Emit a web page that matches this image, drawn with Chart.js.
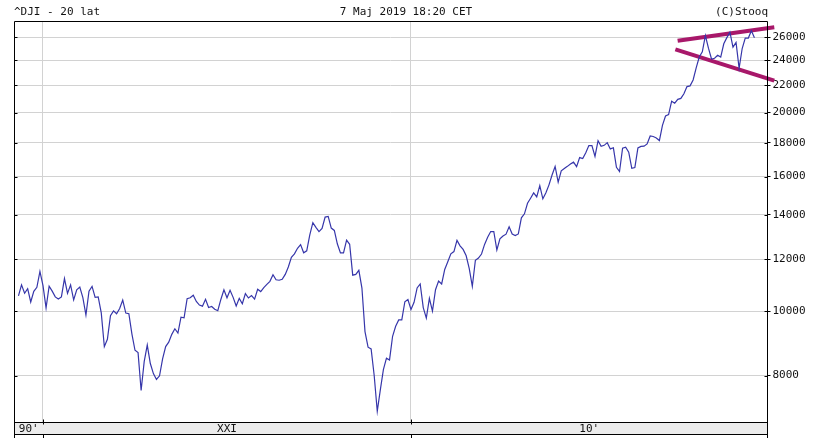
<!DOCTYPE html>
<html>
<head>
<meta charset="utf-8">
<title>^DJI - 20 lat</title>
<script src="https://cdn.jsdelivr.net/npm/chart.js@4.4.1/dist/chart.umd.min.js"></script>
<style>
    html, body { margin: 0; padding: 0; background: #fff; }
    canvas { display: block; }
</style>
</head>
<body>
<canvas id="djiChart" width="819" height="438"></canvas>
<script>
// Monthly closes of ^DJI, May 1999 .. May 2019 (one point per month)
const startYear = 1999;
const startMonth = 5;
const closes = [
    10560, 10971, 10655, 10829, 10337, 10730, 10878, 11497,
    10941, 10128, 10922, 10734, 10522, 10448, 10522, 11215, 10651, 10971, 10414, 10788,
    10887, 10495, 9879, 10735, 10912, 10502, 10523, 9950, 8848, 9075, 9852, 10022,
    9920, 10106, 10404, 9946, 9925, 9243, 8737, 8664, 7592, 8397, 8896, 8342,
    8054, 7891, 7992, 8480, 8850, 8985, 9234, 9416, 9275, 9801, 9782, 10454,
    10488, 10584, 10358, 10226, 10188, 10435, 10140, 10174, 10080, 10027, 10428, 10783,
    10490, 10766, 10504, 10193, 10467, 10275, 10641, 10482, 10569, 10440, 10806, 10718,
    10865, 10993, 11109, 11367, 11168, 11150, 11186, 11381, 11679, 12081, 12222, 12463,
    12622, 12269, 12354, 13063, 13628, 13409, 13212, 13358, 13896, 13930, 13372, 13265,
    12650, 12266, 12263, 12820, 12638, 11350, 11378, 11544, 10851, 9325, 8829, 8776,
    8001, 7063, 7609, 8168, 8500, 8447, 9172, 9496, 9712, 9713, 10345, 10428,
    10067, 10325, 10857, 11009, 10137, 9774, 10466, 10015, 10788, 11118, 11006, 11578,
    11892, 12226, 12320, 12811, 12570, 12414, 12143, 11614, 10913, 11955, 12046, 12218,
    12633, 12952, 13212, 13214, 12393, 12880, 13009, 13091, 13437, 13096, 13026, 13104,
    13861, 14054, 14579, 14840, 15116, 14910, 15500, 14810, 15130, 15546, 16086, 16577,
    15699, 16322, 16458, 16581, 16717, 16827, 16563, 17098, 17043, 17391, 17828, 17823,
    17165, 18133, 17776, 17841, 18011, 17620, 17690, 16528, 16285, 17664, 17720, 17425,
    16466, 16517, 17685, 17774, 17787, 17930, 18432, 18401, 18308, 18142, 19124, 19763,
    19864, 20812, 20663, 20941, 21009, 21350, 21891, 21948, 22405, 23377, 24272, 24719,
    26149, 25029, 24103, 24163, 24416, 24271, 25415, 25965, 26458, 25116, 25538, 23327,
    25000, 25916, 25929, 26593, 25965
];

// Axis setup
const yTicks = [8000, 10000, 12000, 14000, 16000, 18000, 20000, 22000, 24000, 26000];
const decadeLines = [2000, 2010];
const decadeLabels = ["90'", "XXI", "10'"];
const xMin = 1999.212;
const xMax = 2019.688;
const yMin = 6816;
const yMax = 27420;

// Hand-drawn trend lines (triangle)
const upperTrend = [{ x: 2017.246, y: 25691 }, { x: 2019.872, y: 26918 }];
const lowerTrend = [{ x: 2017.184, y: 24933 }, { x: 2019.872, y: 22349 }];

const titleLeft = '^DJI - 20 lat';
const titleCenter = '7 Maj 2019 18:20 CET';
const titleRight = '(C)Stooq';

const MONO = "'DejaVu Sans Mono', 'Liberation Mono', monospace";

// Build x/y points, one per month (plotted at month start)
const points = closes.map((v, i) => {
    const m = startMonth - 1 + i;
    return { x: startYear + m / 12, y: v };
});

// Frame, date band and header texts
const framePlugin = {
    id: 'stooqFrame',
    afterDraw(chart) {
        const ctx = chart.ctx;
        const a = chart.chartArea;
        const xs = chart.scales.x;
        const ys = chart.scales.y;
        const left = Math.round(a.left) + 0.5;
        const right = Math.round(a.right) - 0.5;
        const top = Math.round(a.top) - 0.5;
        const bottom = Math.round(a.bottom) + 0.5;
        const bandBottom = bottom + 12;

        ctx.save();

        // date band
        ctx.fillStyle = '#ececec';
        ctx.fillRect(left, bottom, right - left, bandBottom - bottom);

        ctx.strokeStyle = '#000';
        ctx.lineWidth = 1;
        ctx.beginPath();
        ctx.moveTo(left, top); ctx.lineTo(right, top);
        ctx.moveTo(left, top); ctx.lineTo(left, chart.height);
        ctx.moveTo(right, top); ctx.lineTo(right, chart.height);
        ctx.moveTo(left, bottom); ctx.lineTo(right, bottom);
        ctx.moveTo(left, bandBottom); ctx.lineTo(right, bandBottom);
        ctx.stroke();

        // decade separators below the band and small ticks
        ctx.beginPath();
        decadeLines.forEach(d => {
            const px = Math.round(xs.getPixelForValue(d)) + 0.5;
            ctx.moveTo(px, bottom - 3); ctx.lineTo(px, bottom + 2);
            ctx.moveTo(px, bandBottom); ctx.lineTo(px, chart.height);
        });
        // y ticks on both frame sides
        yTicks.forEach(v => {
            const py = Math.round(ys.getPixelForValue(v)) + 0.5;
            ctx.moveTo(left, py); ctx.lineTo(left + 3, py);
            ctx.moveTo(right - 3, py); ctx.lineTo(right, py);
        });
        ctx.stroke();

        // decade labels centred in their spans
        const edges = [left, ...decadeLines.map(d => xs.getPixelForValue(d)), right];
        ctx.fillStyle = '#111';
        ctx.font = '11px ' + MONO;
        ctx.textAlign = 'center';
        ctx.textBaseline = 'middle';
        decadeLabels.forEach((lab, i) => {
            ctx.fillText(lab, (edges[i] + edges[i + 1]) / 2, (bottom + bandBottom) / 2 + 0.5);
        });

        // header
        ctx.textBaseline = 'middle';
        ctx.textAlign = 'left';
        ctx.fillText(titleLeft, 14, 12);
        ctx.textAlign = 'center';
        ctx.fillText(titleCenter, 406, 12);
        ctx.textAlign = 'right';
        ctx.fillText(titleRight, 768, 12);

        ctx.restore();
    }
};

const ctx = document.getElementById('djiChart').getContext('2d');
const chart = new Chart(ctx, {
    type: 'line',
    plugins: [framePlugin],
    data: {
        datasets: [
            {
                label: '^DJI',
                data: points,
                borderColor: '#3636aa',
                borderWidth: 1.2,
                pointRadius: 0,
                tension: 0
            },
            {
                label: 'upper',
                data: upperTrend,
                borderColor: '#a8186a',
                borderWidth: 4,
                pointRadius: 0,
                clip: false
            },
            {
                label: 'lower',
                data: lowerTrend,
                borderColor: '#a8186a',
                borderWidth: 4,
                pointRadius: 0,
                clip: false
            }
        ]
    },
    options: {
        responsive: false,
        devicePixelRatio: 1,
        animation: false,
        layout: { padding: { top: 22, left: 14, right: 0, bottom: 0 } },
        plugins: {
            legend: { display: false },
            tooltip: { enabled: false }
        },
        scales: {
            x: {
                type: 'linear',
                min: xMin,
                max: xMax,
                afterFit(scale) { scale.height = 16.5; },
                afterBuildTicks(scale) {
                    scale.ticks = decadeLines.map(v => ({ value: v }));
                },
                ticks: { display: false },
                grid: { color: '#d2d2d2', drawTicks: false },
                border: { display: false }
            },
            y: {
                type: 'logarithmic',
                position: 'right',
                min: yMin,
                max: yMax,
                afterFit(scale) { scale.width = 51.5; },
                afterBuildTicks(scale) {
                    scale.ticks = yTicks.map(v => ({ value: v }));
                },
                ticks: {
                    font: { family: MONO, size: 11 },
                    color: '#111',
                    padding: 2,
                    callback: function(value) { return String(value); }
                },
                grid: { color: '#d2d2d2', tickLength: 3, tickColor: '#000' },
                border: { color: '#000' }
            }
        }
    }
});
</script>
</body>
</html>
